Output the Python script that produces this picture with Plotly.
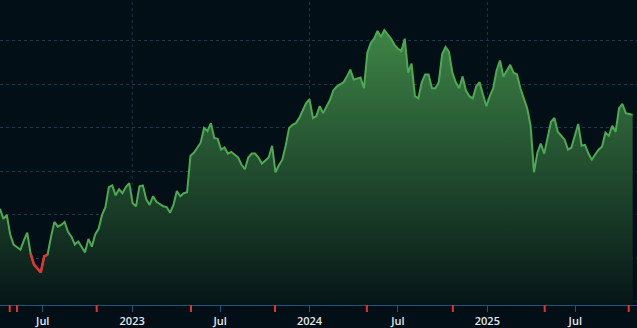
import pandas as pd
import plotly.graph_objects as go

start_date = "2022-04-04"
prices = [
    31.4, 29.1, 30.0, 25.5, 23.2, 22.7, 22.0, 24.1, 25.9, 21.1,
    18.6, 17.7, 16.8, 20.5, 20.9, 25.0, 28.4, 27.3, 27.7, 28.4,
    26.1, 25.0, 23.2, 23.9, 22.7, 21.4, 24.5, 22.7, 25.5, 26.8,
    30.0, 31.8, 36.4, 36.8, 34.5, 35.9, 35.0, 36.4, 37.3, 32.7,
    32.0, 36.6, 36.8, 33.6, 32.3, 34.3, 33.0, 32.5, 32.0, 31.8,
    30.5, 32.3, 35.5, 34.3, 35.0, 35.2, 43.6, 44.3, 45.5, 46.6,
    50.0, 49.3, 51.1, 47.7, 47.5, 45.0, 45.5, 44.1, 44.5, 43.9,
    43.2, 41.6, 40.5, 43.2, 44.1, 44.1, 43.2, 41.8, 42.5, 43.2,
    45.9, 39.8, 41.4, 42.7, 45.9, 50.0, 50.7, 51.1, 52.3, 54.1,
    55.7, 56.6, 52.3, 52.7, 55.0, 53.4, 55.0, 56.4, 58.6, 59.5,
    60.0, 60.5, 61.8, 63.4, 61.1, 61.4, 61.6, 59.1, 67.3, 69.5,
    70.5, 72.3, 70.9, 72.5, 71.4, 70.5, 69.1, 68.2, 67.7, 70.5,
    62.7, 64.8, 57.3, 56.8, 60.5, 62.3, 62.3, 59.1, 59.1, 60.5,
    67.0, 68.6, 67.5, 62.7, 60.5, 59.1, 61.8, 58.6, 57.3, 56.8,
    59.5, 60.5, 57.7, 55.0, 57.3, 59.1, 63.2, 65.5, 61.8, 63.0,
    64.5, 62.7, 62.3, 59.1, 56.8, 54.5, 50.5, 39.8, 44.3, 46.4,
    44.1, 47.7, 51.4, 52.3, 49.1, 48.2, 47.3, 45.0, 45.5, 48.2,
    50.9, 45.9, 46.1, 44.1, 42.7, 43.9, 45.0, 45.7, 48.9, 48.2,
    50.5, 49.1, 54.5, 55.5, 53.4, 53.2, 53.0,
]
dividend_dates = [
    "2022-04-24", "2022-05-09", "2022-10-20", "2023-05-02", "2023-10-22",
    "2024-04-28", "2024-10-22", "2025-04-29", "2025-10-19",
]
tick_dates = ["2022-07-01", "2023-01-01", "2023-07-01", "2024-01-01",
              "2024-07-01", "2025-01-01", "2025-07-01"]
tick_labels = ["Jul", "2023", "Jul", "2024", "Jul", "2025", "Jul"]
year_dates = ["2023-01-01", "2024-01-01", "2025-01-01"]
low_threshold = 21.2

dates = pd.date_range(start_date, periods=len(prices), freq="7D")

BG = "#020f17"
GREEN = "#4caa52"
RED = "#e03434"
GRID = "#133a4e"
AXIS = "#1c5577"

fig = go.Figure()
fig.add_trace(go.Scatter(
    x=dates, y=prices, mode="lines",
    line=dict(color=GREEN, width=2),
    fill="tozeroy",
    fillgradient=dict(type="vertical", start=9.3, stop=72.5,
                      colorscale=[[0, "rgba(5,20,22,1)"], [1, "rgba(62,132,70,1)"]]),
    hoverinfo="skip", showlegend=False,
))
red_y = [p if p < low_threshold else None for p in prices]
fig.add_trace(go.Scatter(
    x=dates, y=red_y, mode="lines",
    line=dict(color=RED, width=2.5),
    connectgaps=False, hoverinfo="skip", showlegend=False,
))

shapes = []
for d in year_dates:
    shapes.append(dict(type="line", xref="x", yref="paper", x0=d, x1=d, y0=0, y1=1,
                       line=dict(color=GRID, width=1, dash="dot"), layer="below"))
for d in dividend_dates:
    shapes.append(dict(type="line", xref="x", yref="paper", x0=d, x1=d,
                       ysizemode="pixel", yanchor=0, y0=-7, y1=0,
                       line=dict(color=RED, width=2)))

fig.update_layout(
    width=637, height=328,
    margin=dict(l=0, r=0, t=0, b=19),
    paper_bgcolor=BG, plot_bgcolor=BG,
    shapes=shapes,
    xaxis=dict(
        range=["2022-04-04", "2025-11-05"],
        tickvals=tick_dates, ticktext=tick_labels,
        showgrid=False, zeroline=False,
        showline=True, linecolor=AXIS, linewidth=1,
        ticks="outside", ticklen=6, tickcolor=AXIS, tickwidth=1,
        tickfont=dict(family="Open Sans", size=11, color="#e3e9ee", weight=600),
    ),
    yaxis=dict(
        range=[9.3, 79.4], dtick=10, tick0=0,
        showgrid=True, gridcolor=GRID, griddash="dot", gridwidth=1,
        zeroline=False, showticklabels=False, showline=False,
    ),
)

fig.write_html("out.html")
